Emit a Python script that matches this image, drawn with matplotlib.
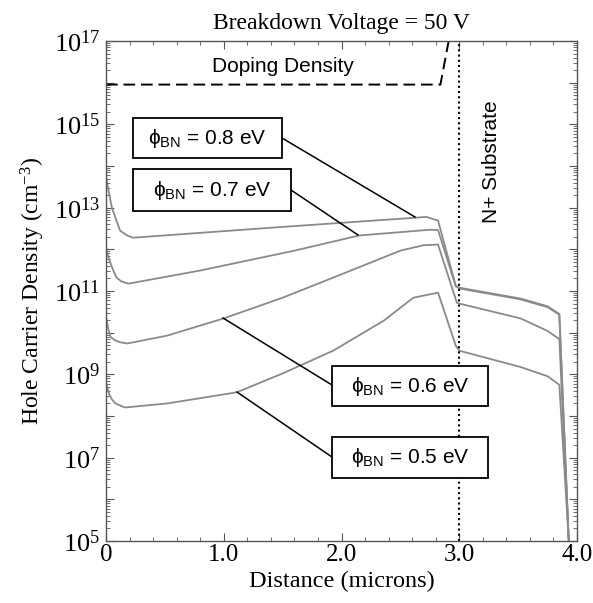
import matplotlib
matplotlib.use("Agg")
import math
import matplotlib.pyplot as plt
from matplotlib.ticker import FixedLocator, FuncFormatter, LogLocator, NullFormatter
from matplotlib.patches import Rectangle
from matplotlib.lines import Line2D

# ---------------- data ----------------
x_08 = [0.0, 0.015, 0.03, 0.05, 0.08, 0.12, 0.18, 0.23, 1.4, 2.63, 2.72, 2.82, 2.97, 3.0, 3.52, 3.75, 3.85, 3.93]
y_08 = [5.9e13, 3.2e13, 1.95e13, 1.0e13, 5.75e12, 2.8e12, 2.15e12, 1.9e12, 3.3e12, 5.75e12, 6.0e12, 4.9e12, 1.35e11, 1.2e11, 6.6e10, 4.3e10, 2.8e10, 1e5]

x_07 = [0.0, 0.015, 0.03, 0.06, 0.09, 0.13, 0.19, 0.8, 1.6, 2.15, 2.75, 2.82, 2.97, 3.0, 3.52, 3.75, 3.85, 3.93]
y_07 = [1.1e12, 7.5e11, 5.4e11, 3.2e11, 2.1e11, 1.7e11, 1.5e11, 3.1e11, 9.3e11, 2.15e12, 2.95e12, 2.9e12, 1.3e11, 1.15e11, 6.3e10, 4.1e10, 2.7e10, 1e5]

x_06 = [0.0, 0.02, 0.04, 0.08, 0.12, 0.18, 0.52, 1.0, 1.5, 1.93, 2.5, 2.7, 2.82, 2.98, 3.0, 3.52, 3.75, 3.85, 3.93]
y_06 = [2.5e10, 1.2e10, 7.8e9, 6.5e9, 5.9e9, 5.5e9, 8.5e9, 2.2e10, 6.9e10, 2.1e11, 9.3e11, 1.26e12, 1.3e12, 5.2e10, 5.0e10, 2.2e10, 1.1e10, 7e9, 1e5]

x_05 = [0.0, 0.015, 0.03, 0.05, 0.08, 0.16, 0.52, 1.11, 1.5, 1.93, 2.36, 2.61, 2.82, 2.97, 3.0, 3.52, 3.75, 3.85, 3.93]
y_05 = [6.5e8, 4.4e8, 3.2e8, 2.5e8, 2e8, 1.6e8, 2e8, 3.7e8, 1.05e9, 3.7e9, 1.95e10, 6.9e10, 9.1e10, 4.9e9, 3.7e9, 1.5e9, 9e8, 5.6e8, 1e5]

doping_x = [0.0, 2.84, 2.91]
doping_y = [9e15, 9e15, 1e17]

substrate_edge = 3.0

labels = ["0.8", "0.7", "0.6", "0.5"]
x_ticks = [0, 1, 2, 3, 4]
x_tick_labels = ["0", "1.0", "2.0", "3.0", "4.0"]

# ---------------- style ----------------
plt.rcParams['mathtext.fontset'] = 'custom'
plt.rcParams['mathtext.rm'] = 'Liberation Serif'
plt.rcParams['mathtext.it'] = 'Liberation Serif:italic'
plt.rcParams['mathtext.sf'] = 'Liberation Sans'
plt.rcParams['font.family'] = ['Liberation Serif', 'DejaVu Serif']

fig = plt.figure(figsize=(5.93, 6.03), dpi=100)
ax = fig.add_axes([106/593, 62/603, 471/593, 500/603])

curve_color = '#8a8a8a'
for xs, ys in [(x_08, y_08), (x_07, y_07), (x_06, y_06), (x_05, y_05)]:
    ax.plot(xs, ys, color=curve_color, lw=1.3, solid_joinstyle='round')

ax.plot(doping_x, doping_y, color='black', lw=1.4, dashes=(6, 3))
ax.axvline(substrate_edge, color='black', lw=1.5, ls=(0, (1, 1.5)))

ax.set_yscale('log')
ax.set_xlim(0, 4)
ax.set_ylim(1e5, 1e17)

ax.xaxis.set_major_locator(FixedLocator(x_ticks))
ax.set_xticklabels(x_tick_labels)
ax.xaxis.set_minor_locator(FixedLocator([i * 0.2 for i in range(21)]))

ax.yaxis.set_major_locator(LogLocator(base=10, numticks=30))
ax.yaxis.set_minor_locator(LogLocator(base=10, subs=[2, 3, 4, 5, 6, 7, 8, 9], numticks=30))
ax.yaxis.set_minor_formatter(NullFormatter())

def yfmt(v, pos):
    e = int(round(math.log10(v)))
    if e % 2 == 1:
        return r'$\mathrm{10^{%d}}$' % e
    return ''
ax.yaxis.set_major_formatter(FuncFormatter(yfmt))

ax.tick_params(which='both', direction='in', top=True, right=True, colors='#555555', labelcolor='black')
ax.tick_params(axis='x', labelsize=18, pad=2)
ax.tick_params(axis='y', labelsize=19, pad=4)
ax.tick_params(which='major', length=6, width=0.8)
ax.tick_params(which='minor', length=3, width=0.6)
for s in ax.spines.values():
    s.set_color('#555555')
    s.set_linewidth(1.0)

ax.set_xlabel('Distance (microns)', fontsize=17.5, labelpad=4)
ax.set_ylabel(r'Hole Carrier Density (cm$^{-3}$)', fontsize=17, labelpad=5)
ax.set_title('Breakdown Voltage = 50 V', fontsize=17, pad=9)

sans = ['Liberation Sans', 'DejaVu Sans']
ax.text(0.375, 0.948, 'Doping Density', transform=ax.transAxes, ha='center', va='center',
        fontsize=15, family=sans)
ax.text(0.818, 0.758, 'N+ Substrate', transform=ax.transAxes, ha='center', va='center',
        rotation=90, fontsize=15, family=sans)

# label boxes (axes fraction): x0, y0, x1, y1 ; leader: from box point to curve point
boxes = [
    (0.0573, 0.766, 0.3737, 0.846, (0.3737, 0.806), (0.656, 0.648)),
    (0.0573, 0.660, 0.3928, 0.744, (0.3928, 0.702), (0.535, 0.612)),
    (0.4798, 0.270, 0.8110, 0.350, (0.4798, 0.312), (0.2484, 0.446)),
    (0.4798, 0.126, 0.8110, 0.208, (0.4798, 0.168), (0.278, 0.298)),
]
for lab, (x0, y0, x1, y1, p0, p1) in zip(labels, boxes):
    ax.add_patch(Rectangle((x0, y0), x1 - x0, y1 - y0, transform=ax.transAxes,
                           facecolor='white', edgecolor='black', lw=1.3, zorder=5))
    ax.add_line(Line2D([p0[0], p1[0]], [p0[1], p1[1]], transform=ax.transAxes,
                       color='black', lw=1.1, zorder=4))
    ax.text((x0 + x1) / 2, (y0 + y1) / 2, 'ϕ$_{\\mathsf{BN}}$ = %s eV' % lab,
            transform=ax.transAxes, ha='center', va='center', fontsize=15,
            family='Liberation Sans', zorder=6)

fig.savefig('out.png', dpi=100)
